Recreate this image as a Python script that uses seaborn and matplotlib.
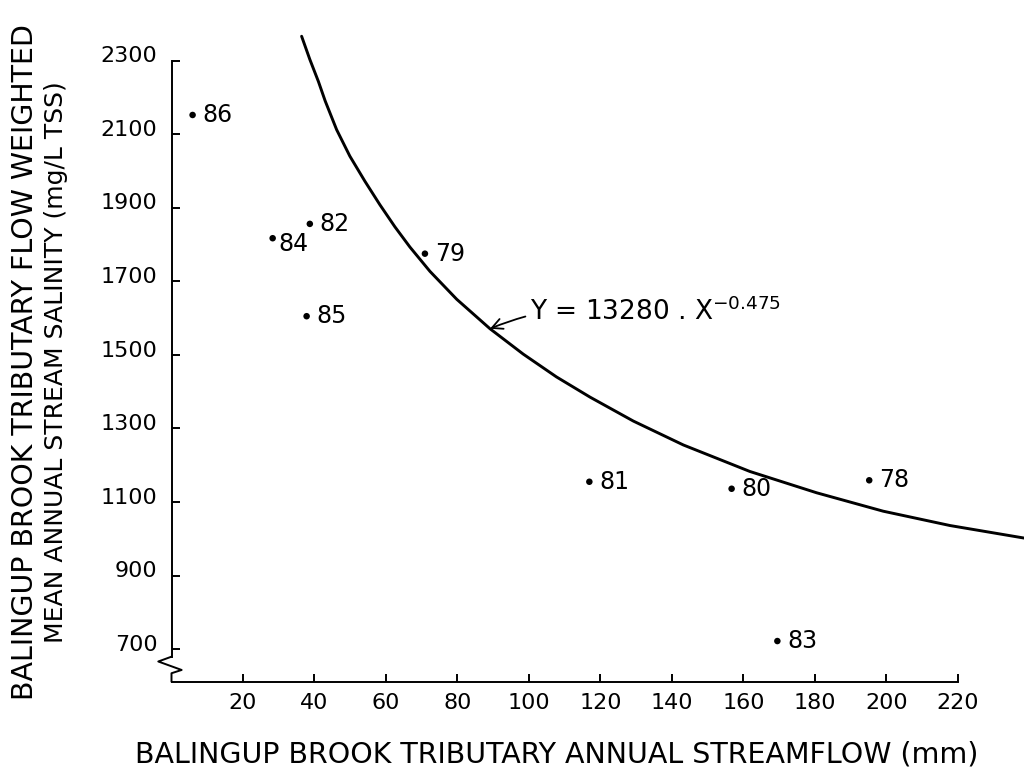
import matplotlib.pyplot as plt
import seaborn as sns
from matplotlib.transforms import ScaledTranslation

# observations: year label, annual streamflow (mm), flow weighted salinity (mg/L TSS)
years = ['78', '79', '80', '81', '82', '83', '84', '85', '86']
streamflow = [195.2, 70.9, 156.7, 116.9, 38.7, 169.5, 28.3, 37.8, 5.9]
salinity = [1159, 1775, 1136, 1155, 1856, 722, 1817, 1605, 2152]

# fitted curve
curve_x = [36.4, 38.7, 41.1, 43.0, 46.2, 49.9, 54.1, 58.3, 62.5, 66.7, 72.3, 79.8,
           89.1, 98.4, 107.7, 117.1, 129.2, 143.2, 161.8, 180.5, 199.1, 217.8, 238.5]
curve_y = [2366, 2303, 2243, 2190, 2112, 2040, 1972, 1908, 1848, 1793, 1727, 1651,
           1571, 1502, 1440, 1385, 1320, 1255, 1183, 1125, 1075, 1036, 1002]

x_ticks = list(range(20, 221, 20))
y_ticks = list(range(700, 2301, 200))

sns.set_theme(style="ticks")
plt.rcParams['font.family'] = ['DejaVu Sans']
plt.rcParams.update({'text.color': 'black', 'axes.labelcolor': 'black',
                     'xtick.color': 'black', 'ytick.color': 'black'})

fig = plt.figure(figsize=(10.24, 7.76), dpi=100)
ax = fig.add_axes([171.5 / 1024, 1 - 681.7 / 776, 852.5 / 1024, 651.7 / 776])

sns.lineplot(x=curve_x, y=curve_y, color='black', linewidth=2.1, ax=ax)
sns.scatterplot(x=streamflow, y=salinity, color='black', s=22, edgecolor='none', ax=ax)

# year labels next to each dot
nudge = {'84': (4, -4)}
for yr, x, y in zip(years, streamflow, salinity):
    dx, dy = nudge.get(yr, (7, 0))
    ax.annotate(yr, (x, y), xytext=(dx, dy), textcoords='offset points',
                ha='left', va='center', fontsize=17)

# equation with arrow to the curve
ax.annotate(r"Y = 13280 . $\mathregular{X^{-0.475}}$", xy=(89.1, 1571), xytext=(100.3, 1617),
            ha='left', va='center', fontsize=19,
            arrowprops=dict(arrowstyle='->', color='black', lw=1.3, shrinkA=1, shrinkB=0,
                            connectionstyle='arc3,rad=0.15'))

ax.set_xlim(0, 238.5)
ax.set_ylim(611.5, 2383)
ax.set_xticks(x_ticks)
ax.set_yticks(y_ticks)
ax.set_xlabel('')
ax.set_ylabel('')

sns.despine(ax=ax)
ax.spines['left'].set_bounds(679, 2300)
ax.spines['bottom'].set_bounds(0, 220)
for side in ['left', 'bottom']:
    ax.spines[side].set_linewidth(1.4)
    ax.spines[side].set_color('black')

# axis break on the y axis
ax.plot([0, -0.0155, 0.0119, 0, 0], [0.0384, 0.031, 0.018, 0.013, 0],
        transform=ax.transAxes, clip_on=False, color='black', lw=1.4)

ax.tick_params(direction='in', length=6, width=1.4, labelsize=16)
ax.tick_params(axis='x', pad=8)
ax.tick_params(axis='y', pad=10)
shift = ScaledTranslation(0, 4.5 / 72, fig.dpi_scale_trans)
for lab in ax.get_yticklabels():
    lab.set_transform(lab.get_transform() + shift)

fig.text(25 / 1024, 1 - 362 / 776, 'BALINGUP BROOK TRIBUTARY FLOW WEIGHTED',
         rotation=90, ha='center', va='center', fontsize=20.5)
fig.text(56 / 1024, 1 - 362 / 776, 'MEAN ANNUAL STREAM SALINITY (mg/L TSS)',
         rotation=90, ha='center', va='center', fontsize=18)
fig.text(557 / 1024, 1 - 755 / 776, 'BALINGUP BROOK TRIBUTARY ANNUAL STREAMFLOW (mm)',
         ha='center', va='center', fontsize=20.5)

fig.savefig('out.png', dpi=100)
